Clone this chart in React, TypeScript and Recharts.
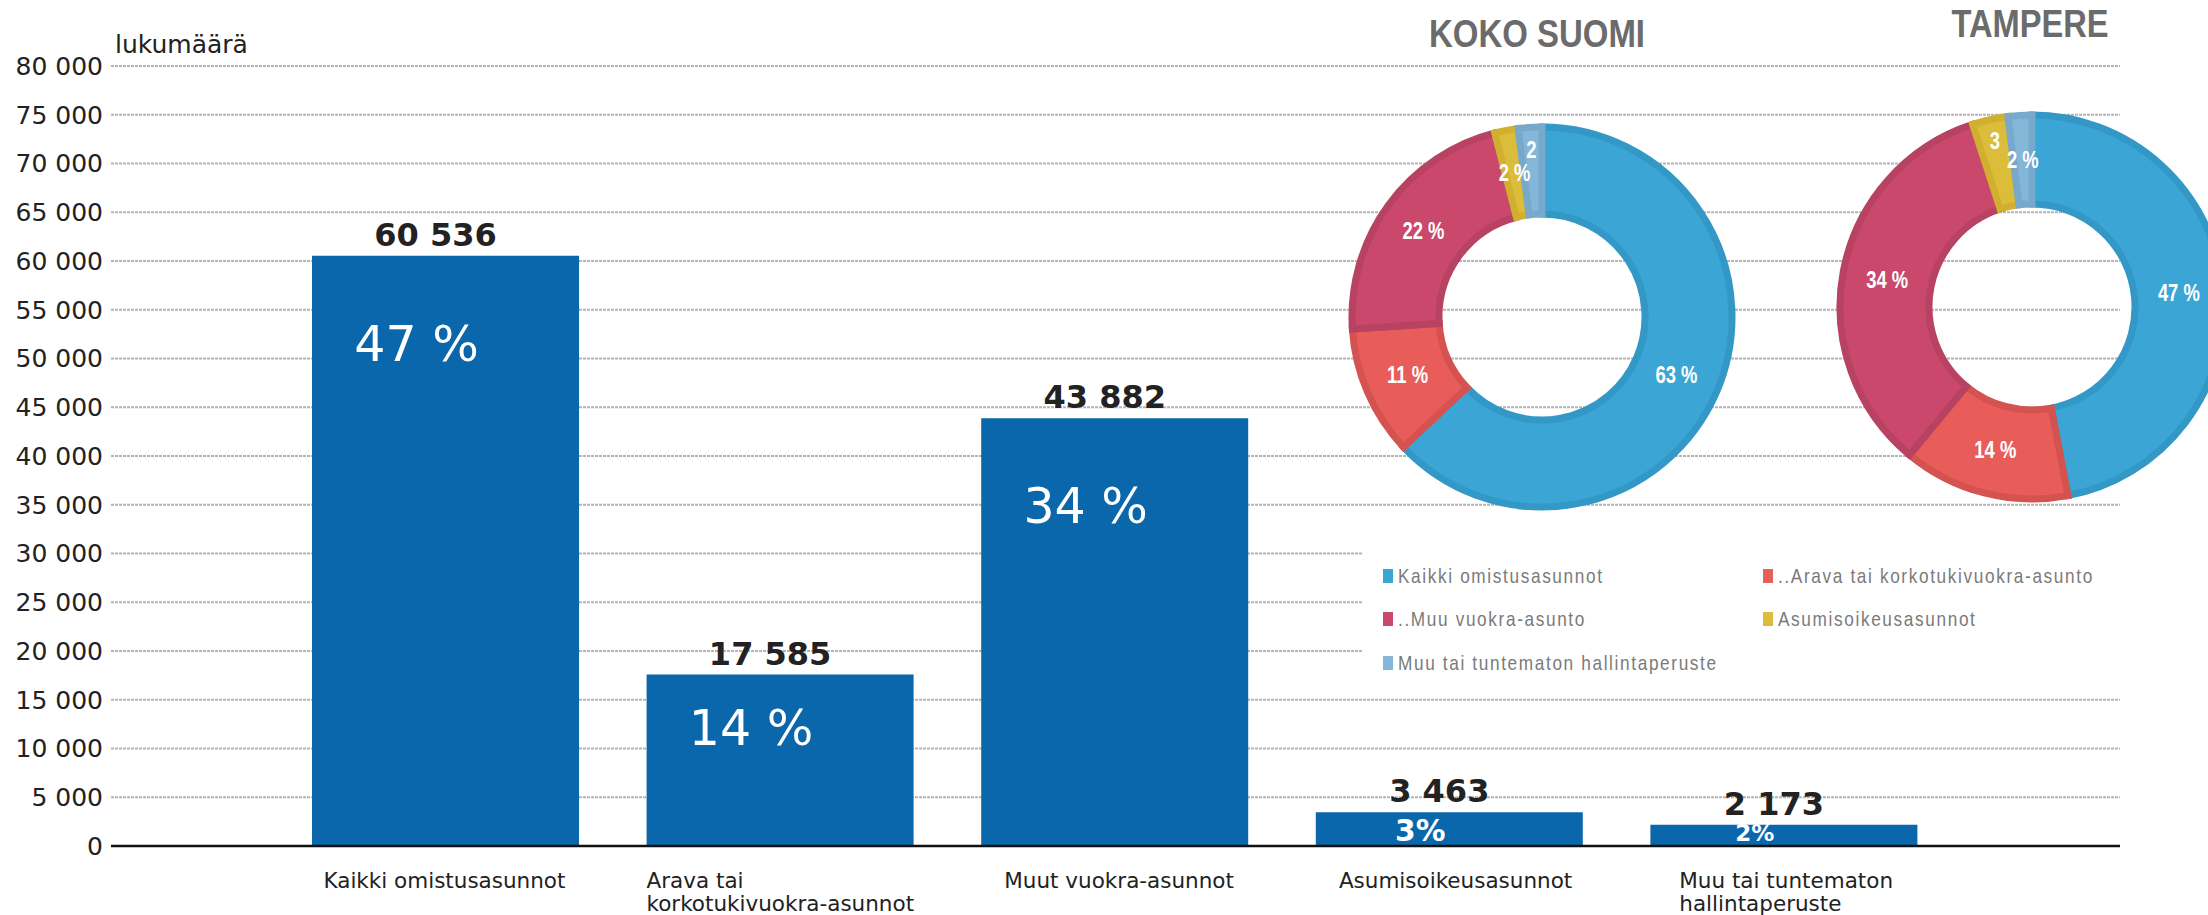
import React from 'react';
import {
  BarChart,
  Bar,
  XAxis,
  YAxis,
  CartesianGrid,
  LabelList,
  PieChart,
  Pie,
  Cell,
} from 'recharts';

// bar chart data
const categories = [
  ['Kaikki omistusasunnot'],
  ['Arava tai', 'korkotukivuokra-asunnot'],
  ['Muut vuokra-asunnot'],
  ['Asumisoikeusasunnot'],
  ['Muu tai tuntematon', 'hallintaperuste'],
];
const counts = [60536, 17585, 43882, 3463, 2173];
const shares = ['47 %', '14 %', '34 %', '3%', '2%'];
const yTicks = [0, 5000, 10000, 15000, 20000, 25000, 30000, 35000, 40000, 45000, 50000, 55000, 60000, 65000, 70000, 75000, 80000];

// donut data
const tenureNames = [
  'Kaikki omistusasunnot',
  '..Arava tai korkotukivuokra-asunto',
  '..Muu vuokra-asunto',
  'Asumisoikeusasunnot',
  'Muu tai tuntematon hallintaperuste',
];
const tenureColors = ['#3ba6d6', '#e85d5a', '#c9486c', '#dbbd3a', '#84b6d7'];
const tenureEdges = ['#3398c6', '#d4524f', '#b84262', '#d2b02f', '#76a9cc'];
const kokoSuomi = [63, 11, 22, 2, 2];
const kokoLabels = ['63 %', '11 %', '22 %', '2 %', '2'];
const tampere = [47, 14, 34, 3, 2];
const tampereLabels = ['47 %', '14 %', '34 %', '3', '2 %'];

const barData = categories.map((lines, i) => ({
  name: lines.join(' '),
  count: counts[i],
  share: shares[i],
}));
const kokoData = kokoSuomi.map((v, i) => ({ name: tenureNames[i], value: v }));
const tampereData = tampere.map((v, i) => ({ name: tenureNames[i], value: v }));

const SANS = '"DejaVu Sans", Verdana, sans-serif';
const NARROW = '"Liberation Sans", Arial, sans-serif';

const fmt = (v: number) => String(v).replace(/\B(?=(\d{3})+(?!\d))/g, ' ');

const CategoryTick = (props: any) => {
  const { x, y, index } = props;
  const lines = categories[index] || [];
  const longest = Math.max(...lines.map((l) => l.length));
  const left = x - (longest * 11.6) / 2;
  return (
    <text fontFamily={SANS} fontSize={21.5} fill="#222" textAnchor="start">
      {lines.map((l, i) => (
        <tspan key={i} x={left} y={y + 34 + i * 23}>
          {l}
        </tspan>
      ))}
    </text>
  );
};

const CountLabel = (p: any) => {
  const x = Number(p.x);
  const y = Number(p.y);
  const w = Number(p.width);
  return (
    <text
      x={x + w / 2 - 10}
      y={y - 10}
      textAnchor="middle"
      fontFamily={SANS}
      fontWeight="bold"
      fontSize={32}
      fill="#222"
    >
      {fmt(Number(p.value))}
    </text>
  );
};

const ShareLabel = (p: any) => {
  const x = Number(p.x);
  const y = Number(p.y);
  const w = Number(p.width);
  const h = Number(p.height);
  const small = h < 60;
  const size = small ? Math.max(23, h * 0.88) : 49;
  const base = small ? y + h - 5 : y + Math.min(105, h * 0.41);
  return (
    <text
      x={x + w / 2 - 29}
      y={base}
      textAnchor="middle"
      fontFamily={SANS}
      fontWeight={small ? 'bold' : 'normal'}
      fontSize={size}
      fill="#fff"
    >
      {p.value}
    </text>
  );
};

const donutLabel = (labels: string[]) => (p: any) => {
  const { cx, cy, midAngle, innerRadius, outerRadius, index } = p;
  const text = labels[index];
  const r = text.includes('%') ? (innerRadius + outerRadius) / 2 : outerRadius - 22;
  const a = (-midAngle * Math.PI) / 180;
  const lx = cx + r * Math.cos(a);
  const ly = cy + r * Math.sin(a);
  return (
    <g transform={`translate(${lx},${ly}) scale(0.8,1)`}>
      <text
        x={0}
        y={0}
        textAnchor="middle"
        dominantBaseline="central"
        fontFamily={NARROW}
        fontWeight="bold"
        fontSize={23}
        fill="#fff"
      >
        {text}
      </text>
    </g>
  );
};

const legendCols = [1383, 1763];
const legendRows = [576, 619, 663];

export default function App() {
  return (
    <div
      style={{
        position: 'absolute',
        left: 0,
        top: 0,
        width: 2208,
        height: 915,
        overflow: 'hidden',
        background: '#fff',
      }}
    >
      <div style={{ position: 'absolute', left: 0, top: 0 }}>
        <BarChart
          width={2208}
          height={915}
          data={barData}
          margin={{ top: 66, right: 88, bottom: 0, left: 0 }}
        >
          <CartesianGrid vertical={false} stroke="#b4b4b4" strokeWidth={2} strokeDasharray="3 1" />
          <XAxis
            dataKey="name"
            interval={0}
            height={69}
            padding={{ left: 167, right: 169 }}
            tickLine={false}
            tickSize={0}
            tickMargin={8}
            axisLine={{ stroke: '#111', strokeWidth: 2.5 }}
            tick={CategoryTick}
          />
          <YAxis
            width={111}
            domain={[0, 80000]}
            ticks={yTicks}
            tickFormatter={fmt}
            axisLine={false}
            tickLine={false}
            tickSize={0}
            tickMargin={8}
            tick={{ fill: '#222', fontSize: 25, fontFamily: SANS }}
          />
          <Bar dataKey="count" fill="#0a67ab" barSize={267} isAnimationActive={false}>
            <LabelList dataKey="count" content={CountLabel} />
            <LabelList dataKey="share" content={ShareLabel} />
          </Bar>
        </BarChart>
      </div>

      <svg
        width={2208}
        height={915}
        style={{ position: 'absolute', left: 0, top: 0 }}
      >
        <text x={115} y={53} fontFamily={SANS} fontSize={25} fill="#222">
          lukumäärä
        </text>
        <rect x={1362} y={522} width={846} height={168} fill="#fff" />
        {tenureNames.map((name, i) => {
          const cx = legendCols[i % 2];
          const cy = legendRows[Math.floor(i / 2)];
          return (
            <g key={name}>
              <rect x={cx} y={cy - 7} width={10} height={14} fill={tenureColors[i]} />
              <g transform={`translate(${cx + 15},${cy + 7}) scale(0.82,1)`}>
                <text
                  x={0}
                  y={0}
                  fontFamily={NARROW}
                  fontSize={21}
                  letterSpacing={2}
                  fill="#7a7a7a"
                >
                  {name}
                </text>
              </g>
            </g>
          );
        })}
        <text
          x={1537}
          y={47}
          textAnchor="middle"
          fontFamily={NARROW}
          fontWeight="bold"
          fontSize={38}
          fill="#6b6b6b"
          textLength={216}
          lengthAdjust="spacingAndGlyphs"
        >
          KOKO SUOMI
        </text>
        <text
          x={2030}
          y={37}
          textAnchor="middle"
          fontFamily={NARROW}
          fontWeight="bold"
          fontSize={38}
          fill="#6b6b6b"
          textLength={157}
          lengthAdjust="spacingAndGlyphs"
        >
          TAMPERE
        </text>
      </svg>

      <div style={{ position: 'absolute', left: 0, top: 0 }}>
        <PieChart width={2208} height={915}>
          <Pie
            data={kokoData}
            dataKey="value"
            cx={1537}
            cy={312}
            innerRadius={103}
            outerRadius={190}
            startAngle={90}
            endAngle={-270}
            labelLine={false}
            label={donutLabel(kokoLabels)}
            isAnimationActive={false}
          >
            {kokoData.map((d, i) => (
              <Cell key={d.name} fill={tenureColors[i]} stroke={tenureEdges[i]} strokeWidth={7} />
            ))}
          </Pie>
          <Pie
            data={tampereData}
            dataKey="value"
            cx={2027}
            cy={302}
            innerRadius={103}
            outerRadius={192}
            startAngle={90}
            endAngle={-270}
            labelLine={false}
            label={donutLabel(tampereLabels)}
            isAnimationActive={false}
          >
            {tampereData.map((d, i) => (
              <Cell key={d.name} fill={tenureColors[i]} stroke={tenureEdges[i]} strokeWidth={7} />
            ))}
          </Pie>
        </PieChart>
      </div>
    </div>
  );
}
